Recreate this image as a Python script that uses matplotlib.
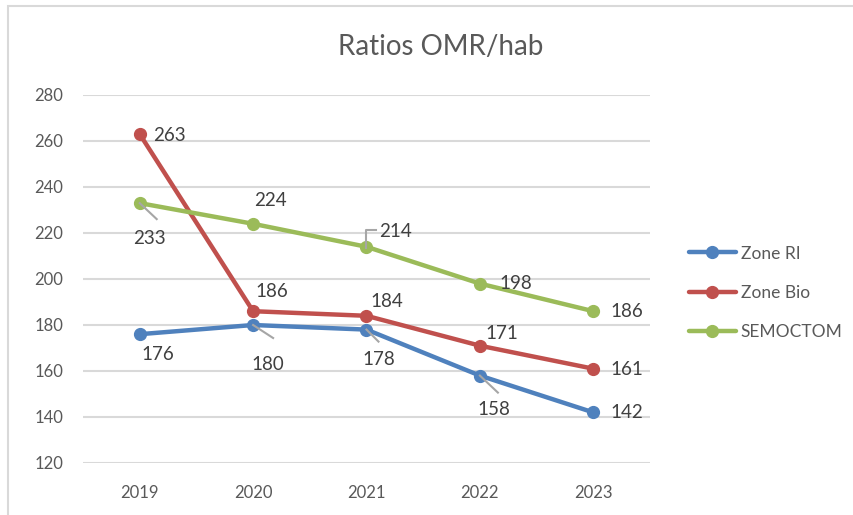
import matplotlib
matplotlib.use('Agg')
import matplotlib.pyplot as plt
from matplotlib.patches import Rectangle
from matplotlib.transforms import IdentityTransform

years = ['2019', '2020', '2021', '2022', '2023']
zone_ri = [176, 180, 178, 158, 142]
zone_bio = [263, 186, 184, 171, 161]
semoctom = [233, 224, 214, 198, 186]

names = ['Zone RI', 'Zone Bio', 'SEMOCTOM']
colors = ['#4F81BD', '#C0504D', '#9BBB59']
series = [zone_ri, zone_bio, semoctom]

# label offsets in pixels (dx right, dy down as in the image)
label_off = [
    [(18, 20), (15, 40), (12, 30), (14, 34), (34, 0)],
    [(30, 1), (19, -20), (20, -14), (22, -12), (34, 1)],
    [(10, 35), (17, -23), (29, -15), (36, 0), (34, 0)],
]
# leader lines: (series, point, list of pixel offsets)
leaders = [
    (0, 1, [(0, 0), (20, 13)]),
    (0, 2, [(0, 0), (12, 12)]),
    (0, 3, [(0, 0), (18, 17)]),
    (2, 0, [(0, 0), (17, 16)]),
    (2, 2, [(0, 1), (0, -17), (10, -17)]),
]

plt.rcParams['font.family'] = ['Liberation Sans Narrow', 'Lato', 'DejaVu Sans']
txt = '#595959'

fig = plt.figure(figsize=(8.54, 5.15), dpi=100)
ax = fig.add_axes([83/854, 1-463/515, (650-83)/854, (463-95)/515])

x = list(range(len(years)))
for s, n, c in zip(series, names, colors):
    ax.plot(x, s, color=c, lw=3.2, marker='o', ms=8.5, label=n, solid_capstyle='round')

ax.set_xlim(-0.5, 4.5)
ax.set_ylim(120, 280)
ax.set_yticks(range(120, 281, 20))
ax.set_xticks(x)
ax.set_xticklabels(years)
ax.grid(axis='y', color='#D9D9D9', lw=1.5)
ax.set_axisbelow(True)
for sp in ax.spines.values():
    sp.set_visible(False)
ax.tick_params(length=0, colors=txt, labelsize=12)
ax.tick_params(axis='y', pad=14)
ax.tick_params(axis='x', pad=16)

fig.draw_without_rendering()
for si, s in enumerate(series):
    for i, v in enumerate(s):
        dx, dy = label_off[si][i]
        ax.annotate(str(v), (i, v), xytext=(dx, -dy), textcoords='offset pixels',
                    ha='center', va='center', fontsize=13.5, color='#404040')

for si, i, pts in leaders:
    px, py = ax.transData.transform((i, series[si][i]))
    xs = [px + a for a, b in pts]
    ys = [py - b for a, b in pts]
    fig.add_artist(plt.Line2D(xs, ys, transform=IdentityTransform(), color='#A6A6A6', lw=1.5))

fig.text(441/854, 1-47/515, 'Ratios OMR/hab', ha='center', va='center', fontsize=20, color=txt)

fig.legend(loc='center left', bbox_to_anchor=(680/854, 1-293/515), frameon=False,
           fontsize=12.5, handlelength=2.7, handletextpad=0.3, labelspacing=1.35,
           borderpad=0, labelcolor=txt)

fig.add_artist(Rectangle((8/854, -0.1), 1.1, 1-6/515+0.1, transform=fig.transFigure,
                         fill=False, ec='#D9D9D9', lw=1.5))

fig.savefig('out.png', dpi=100)
